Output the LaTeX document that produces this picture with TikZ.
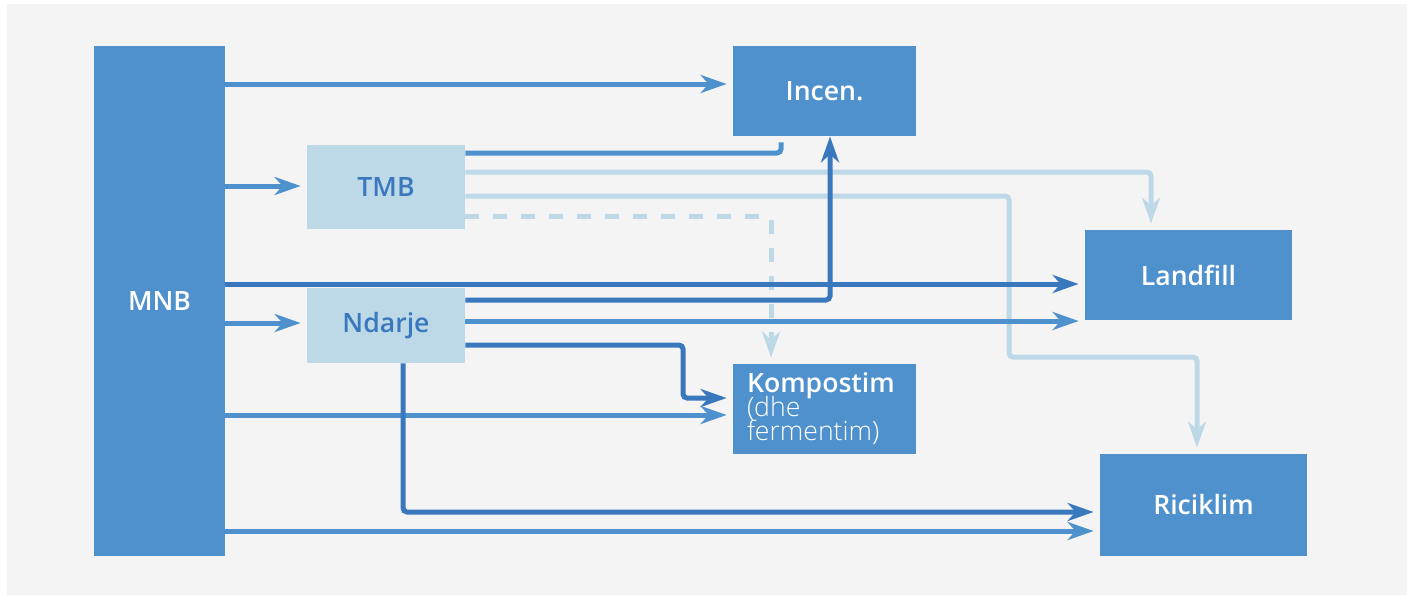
\documentclass[tikz,border=0pt]{standalone}
\usepackage{fontspec}
\setmainfont{Open Sans}[BoldFont={Open Sans Semibold}]
\newfontfamily\lightfont{Open Sans Light}
\usetikzlibrary{arrows.meta}
\definecolor{boxblue}{HTML}{4F91CD}
\definecolor{darkblue}{HTML}{3A78BE}
\definecolor{paleblue}{HTML}{BDD9E7}
\definecolor{bggray}{HTML}{F4F4F4}
\begin{document}
\begin{tikzpicture}[x=0.5pt, y=-0.5pt,
    bin/.style={fill=boxblue, text=white, inner sep=0pt,
      font=\fontsize{13.3}{12}\selectfont\bfseries,
      execute at begin node={\lineskiplimit=-20pt\relax}},
    sorter/.style={bin, fill=paleblue, text=darkblue},
    flow/.style={line width=2.5pt, rounded corners=2pt, draw=boxblue,
      -{Stealth[length=13pt, width=9pt, inset=4pt]}, shorten >=3pt},
    darkflow/.style={flow, draw=darkblue},
    paleflow/.style={flow, draw=paleblue}]
    \useasboundingbox (0,0) rectangle (1407,595);
    \fill[white] (0,0) rectangle (1407,595);
    \fill[bggray] (7,4) rectangle (1407,595);
    % boxes
    \node[bin, minimum width=65.5pt, minimum height=255pt] (MNB) at (159.5,301) {MNB};
    \node[bin, minimum width=91.5pt, minimum height=45pt] (Incen) at (824.5,91) {Incen.};
    \node[sorter, minimum width=79pt, minimum height=42pt] (TMB) at (386,187) {TMB};
    \node[sorter, minimum width=79pt, minimum height=37.5pt] (Ndarje) at (386,325.5) {Ndarje};
    \node[bin, minimum width=103.5pt, minimum height=45pt] (Landfill) at (1188.5,275) {Landfill};
    \node[bin, minimum height=45pt, inner xsep=7pt, text width=77.5pt, align=left] (Kompostim) at (824.5,409)
      {Kompostim\\{\lightfont\mdseries(dhe}\\{\lightfont\mdseries fermentim)}};
    \node[bin, minimum width=103.5pt, minimum height=51pt] (Riciklim) at (1203.5,505) {Riciklim};
    % pale flows from TMB
    \draw[paleflow] (TMB.east |- 0,172) -| (1151,0 |- Landfill.north);
    \draw[paleflow] (TMB.east |- 0,196) -| (1009,357) -| (1197,0 |- Riciklim.north);
    \draw[paleflow, dash pattern=on 7pt off 7pt] (TMB.east |- 0,216) -| (771,0 |- Kompostim.north);
    % flows from MNB
    \foreach \y/\dest in {84/Incen,186/TMB,323/Ndarje,415/Kompostim,531/Riciklim}{
      \draw[flow] (MNB.east |- 0,\y) -- (\dest.west |- 0,\y);
    }
    \draw[flow, -] (TMB.east |- 0,153) -| (781,0 |- Incen.south);
    \draw[flow] (Ndarje.east |- 0,321) -- (Landfill.west |- 0,321);
    \draw[darkflow] (MNB.east |- 0,284) -- (Landfill.west |- 0,284);
    \draw[darkflow, shorten >=0pt] (Ndarje.east |- 0,300) -| (830,0 |- Incen.south);
    \draw[darkflow] (Ndarje.east |- 0,345) -| (683,398) -- (Kompostim.west |- 0,398);
    \draw[darkflow] (403,0 |- Ndarje.south) |- (Riciklim.west |- 0,512);
\end{tikzpicture}
\end{document}
